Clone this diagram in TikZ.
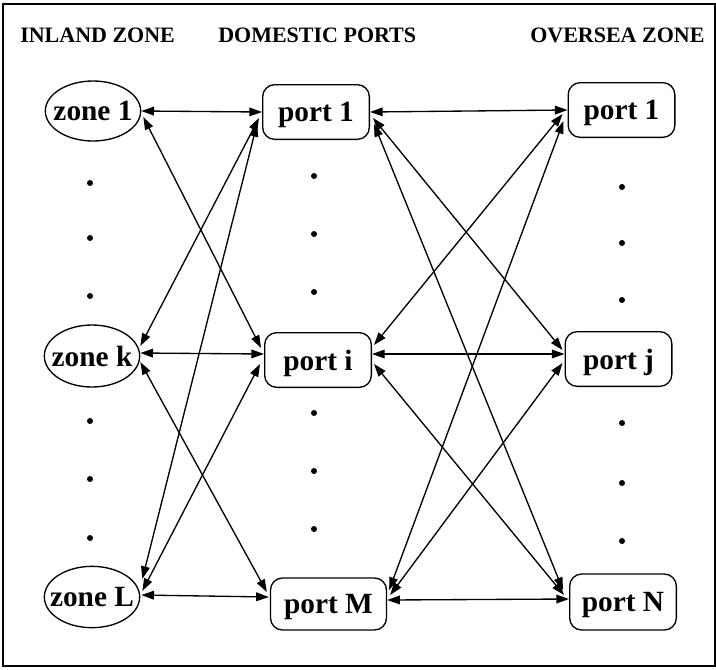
\documentclass[tikz,border=0pt]{standalone}
\usepackage{fontspec}
\setmainfont{Liberation Serif}
\usetikzlibrary{arrows.meta,calc,shapes.geometric}
\newcommand{\lowtext}[1]{\raisebox{-2.5pt}[\height][\depth]{#1}}
\begin{document}
\begin{tikzpicture}[x=0.75pt,y=-0.75pt,
  zbox/.style={draw,line width=1pt,ellipse,inner sep=0pt,minimum width=71.5pt,minimum height=45pt,font=\bfseries\fontsize{22}{24}\selectfont},
  pbox/.style={draw,line width=1pt,rounded corners=9pt,inner sep=0pt,minimum width=80pt,minimum height=41pt,font=\bfseries\fontsize{22}{24}\selectfont},
  head/.style={font=\bfseries\fontsize{16.5}{19}\selectfont,inner sep=0pt,anchor=base west},
  link/.style={line width=1pt,{Triangle[length=9.5pt,width=6.5pt]}-{Triangle[length=9.5pt,width=6.5pt]}},
  dotmark/.style={circle,fill,inner sep=0pt,minimum size=4.5pt}]
\useasboundingbox (0,0) rectangle (716,669);
\node[draw,line width=1.5pt,minimum width=534pt,minimum height=497pt,inner sep=0pt] (frame) at (359,335) {};
% headers
\node[head] (h1) at (20,42) {INLAND ZONE};
\node[head] (h2) at (218,42) {DOMESTIC PORTS};
\node[head] (h3) at (530,42) {OVERSEA ZONE};
% inland zones
\node[zbox] (zone1) at (93,111) {\makebox[0pt]{zone 1}};
\node[zbox,minimum height=46.5pt] (zonek) at (92,356) {\makebox[0pt]{zone k}};
\node[zbox,minimum height=46pt] (zoneL) at (92,597) {\makebox[0pt]{zone L}};
% domestic ports
\node[pbox] (port1d) at (316,112) {\lowtext{port 1}};
\node[pbox] (porti) at (318,360) {\lowtext{port i}};
\node[pbox,minimum width=87pt,minimum height=39pt] (portM) at (328.5,604) {\lowtext{port M}};
% oversea ports
\node[pbox] (port1o) at (621.5,110) {\lowtext{port 1}};
\node[pbox] (portj) at (618.5,359) {\lowtext{port j}};
\node[pbox,minimum height=42pt] (portN) at (623,602) {\lowtext{port N}};
% dots
\foreach \y [count=\i] in {183,238,296,421,479,538} \node[dotmark] (dl\i) at (90,\y) {};
\foreach \y [count=\i] in {176,234,292,413,471,529} \node[dotmark] (dm\i) at (314,\y) {};
\foreach \y [count=\i] in {187,243,300,423,483,541} \node[dotmark] (dr\i) at (622,\y) {};
% left connectors
\draw[link] (zone1.east) -- (port1d.west);
\draw[link] ($(zone1.east)+(2,6)$) -- ($(porti.west)+(-3,-12)$);
\draw[link] ($(port1d.west)+(-3,6)$) -- ($(zonek.east)+(0,-10)$);
\draw[link] ($(port1d.west)+(-5,12)$) -- ($(zoneL.east)+(2,-18)$);
\draw[link] ($(zonek.east)+(0,-3)$) -- ($(porti.west)+(0,-6)$);
\draw[link] ($(zonek.east)+(0,6)$) -- ($(portM.west)+(-3,-12)$);
\draw[link] ($(porti.west)+(-4,4)$) -- ($(zoneL.east)+(2,-6)$);
\draw[link] ($(zoneL.east)+(1,-2)$) -- ($(portM.west)+(-1,-7)$);
% right connectors
\draw[link] (port1d.east) -- (port1o.west);
\draw[link] ($(port1d.east)+(3,6)$) -- ($(portj.west)+(-2,-9)$);
\draw[link] ($(port1d.east)+(4,12)$) -- ($(portN.west)+(-6,-12)$);
\draw[link] ($(porti.east)+(2,-15)$) -- ($(port1o.west)+(-5,4)$);
\draw[link] ($(porti.east)+(0,-6)$) -- ($(portj.west)+(0,-5)$);
\draw[link] ($(porti.east)+(2,4)$) -- ($(portN.west)+(-5,-7)$);
\draw[link] ($(portM.east)+(2,-14)$) -- ($(port1o.west)+(-4,11)$);
\draw[link] ($(portM.east)+(3,-9)$) -- ($(portj.west)+(-2,4)$);
\draw[link] ($(portM.east)+(0,-4)$) -- ($(portN.west)+(0,-3)$);
\end{tikzpicture}
\end{document}
